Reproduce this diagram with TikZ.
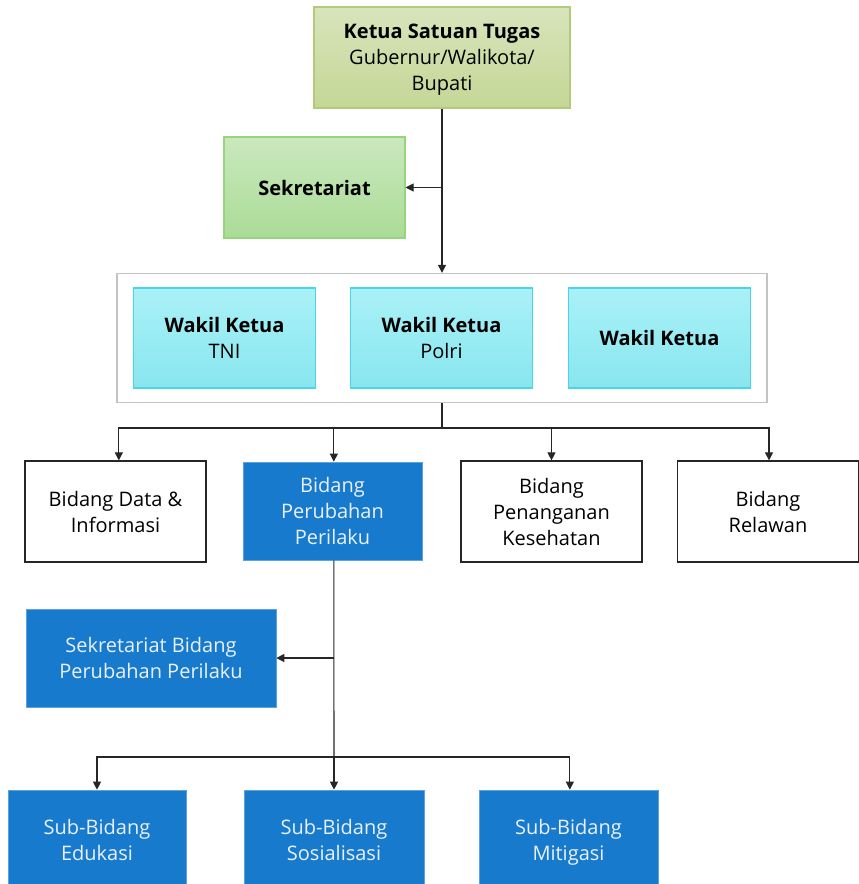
\documentclass[tikz,border=0pt]{standalone}
\usepackage{fontspec}
\setmainfont{Open Sans}
\usepackage{xcolor}
\definecolor{ketuaTop}{RGB}{216, 228, 188}
\definecolor{ketuaBot}{RGB}{196, 215, 150}
\definecolor{ketuaLine}{RGB}{178, 203, 122}
\definecolor{sekTop}{RGB}{202, 232, 190}
\definecolor{sekBot}{RGB}{170, 220, 150}
\definecolor{sekLine}{RGB}{150, 212, 125}
\definecolor{wakilTop}{RGB}{170, 241, 247}
\definecolor{wakilBot}{RGB}{136, 230, 239}
\definecolor{wakilLine}{RGB}{70, 214, 232}
\definecolor{orgBlue}{RGB}{24, 122, 205}
\definecolor{orgBlueText}{RGB}{232, 241, 251}
\definecolor{frameGray}{RGB}{195, 195, 195}
\usepackage{tikz}
\usetikzlibrary{
    arrows.meta,
    positioning,
    fit,
    backgrounds
}
\newcommand{\boxStrut}{\rule[-3.7pt]{0pt}{28.6pt}}
\newcommand{\oneStrut}{\rule[-5.95pt]{0pt}{23.4pt}}
\newcommand{\nodeStrut}{\boxStrut}

\begin{document}
\begin{tikzpicture}[
    x=0.75pt, y=-0.75pt,
    every node/.style={font=\fontsize{15}{19.5}\selectfont, align=center, inner sep=2pt},
    boxText/.style={text depth=-1.5pt, execute at begin node=\nodeStrut, execute at end node=\nodeStrut},
    oneStrutKey/.code={\def\nodeStrut{\oneStrut}},
    oneLine/.style={text depth=5.95pt, oneStrutKey},
    ketuaBox/.style={
        rectangle, boxText, draw=ketuaLine, line width=0.8pt,
        top color=ketuaTop, bottom color=ketuaBot, text=black,
        minimum width=192pt, minimum height=75.75pt
    },
    sekBox/.style={
        rectangle, boxText, draw=sekLine, line width=0.8pt,
        top color=sekTop, bottom color=sekBot, text=black,
        minimum width=135.75pt, minimum height=75.75pt
    },
    wakilBox/.style={
        rectangle, boxText, draw=wakilLine, line width=0.8pt,
        top color=wakilTop, bottom color=wakilBot, text=black,
        minimum width=136.5pt, minimum height=75pt
    },
    plainBox/.style={
        rectangle, boxText, draw=black!85, line width=0.9pt, fill=white, text=black,
        minimum width=135.75pt, minimum height=75.75pt
    },
    blueBox/.style={
        rectangle, boxText, draw=orgBlue!70!white, line width=0.5pt,
        fill=orgBlue, text=orgBlueText,
        minimum width=135pt, minimum height=74pt
    },
    groupFrame/.style={
        rectangle, draw=frameGray, line width=0.9pt,
        inner xsep=12pt, inner ysep=10.5pt
    },
    link/.style={draw=black!85, line width=0.8pt},
    linkArrow/.style={link, -{Triangle[length=6pt, width=6pt]}}
]
    \useasboundingbox (0,0) rectangle (859,884);

    % Pimpinan
    \node[ketuaBox] (ketua) at (442,57.5) {\textbf{Ketua Satuan Tugas}\\Gubernur/Walikota/\\Bupati};
    \node[sekBox, oneLine] (sekre) at (314.5,187.5) {\textbf{Sekretariat}};

    % Wakil Ketua
    \node[wakilBox] (wakil1) at (224.5,338) {\textbf{Wakil Ketua}\\TNI};
    \node[wakilBox] (wakil2) at (441.5,338) {\textbf{Wakil Ketua}\\Polri};
    \node[wakilBox, oneLine] (wakil3) at (659.5,338) {\textbf{Wakil Ketua}};
    \begin{scope}[on background layer]
        \node[groupFrame, fit=(wakil1) (wakil3)] (frame) {};
    \end{scope}

    % Bidang
    \node[plainBox] (bidData) at (115.5,511.5) {Bidang Data \&\\Informasi};
    \node[blueBox, minimum width=134.25pt, minimum height=73.5pt] (bidPerilaku) at (332.5,511) {Bidang\\Perubahan\\Perilaku};
    \node[plainBox] (bidSehat) at (551.5,511.5) {Bidang\\Penanganan\\Kesehatan};
    \node[plainBox] (bidRelawan) at (768,511.5) {Bidang\\Relawan};

    % Sekretariat Bidang dan Sub-Bidang
    \node[blueBox, minimum width=187.5pt, minimum height=73.5pt] (sekBidang) at (151,658) {Sekretariat Bidang\\Perubahan Perilaku};
    \node[blueBox, minimum width=133.5pt, minimum height=75pt] (subEdukasi) at (97,840) {Sub-Bidang\\Edukasi};
    \node[blueBox, minimum width=135pt, minimum height=75pt] (subSosial) at (334,840) {Sub-Bidang\\Sosialisasi};
    \node[blueBox, minimum width=134.25pt, minimum height=75pt] (subMitigasi) at (568.5,840) {Sub-Bidang\\Mitigasi};

    % Junctions
    \coordinate (bidJoin) at (442,428);
    \coordinate (subJoin) at (334,757);

    % Connectors
    \draw[linkArrow] (ketua.south) -- (ketua.south |- frame.north);
    \draw[linkArrow] (ketua.south |- sekre.east) -- (sekre.east);
    \draw[link] (ketua.south |- frame.south) -- (bidJoin);
    \draw[linkArrow] (bidJoin) -| ([xshift=2.5pt]bidData.north);
    \draw[linkArrow] (bidJoin) -| ([xshift=1pt]bidPerilaku.north);
    \draw[linkArrow] (bidJoin) -| (bidSehat.north);
    \draw[linkArrow] (bidJoin) -| ([xshift=0.75pt]bidRelawan.north);
    \draw[link] ([xshift=1pt]bidPerilaku.south) -- (subJoin);
    \draw[linkArrow] (subJoin |- sekBidang.east) -- (sekBidang.east);
    \draw[linkArrow] (subJoin) -| (subEdukasi.north);
    \draw[linkArrow] (subJoin) -- (subSosial.north);
    \draw[linkArrow] (subJoin) -| ([xshift=1pt]subMitigasi.north);

\end{tikzpicture}
\end{document}
